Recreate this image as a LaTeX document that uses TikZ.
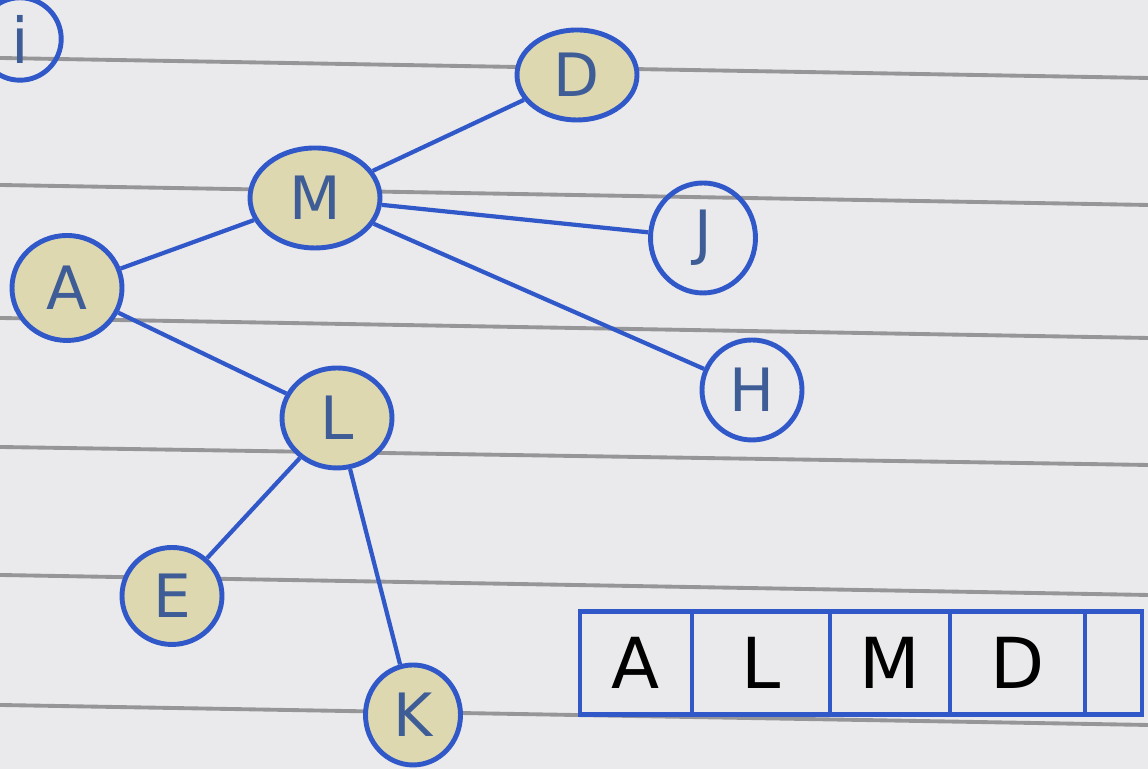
\documentclass[tikz,border=0pt]{standalone}
\usepackage{fontspec}
\setmainfont{DejaVu Sans}
\usetikzlibrary{shapes.geometric}
\definecolor{paper}{RGB}{234,234,236}
\definecolor{rule}{RGB}{150,150,152}
\definecolor{ink}{RGB}{48,88,200}
\definecolor{inktext}{RGB}{62,92,150}
\definecolor{shade}{RGB}{222,216,176}
\begin{document}
\begin{tikzpicture}[
  vertex/.style={ellipse,draw=ink,line width=1.4pt,inner sep=0pt,
    text=inktext,font=\fontsize{17}{20}\selectfont},
  seen/.style={vertex,fill=shade},
  open/.style={vertex},
  edge/.style={draw=ink,line width=1.2pt},
  cell/.style={rectangle,draw=ink,line width=1.4pt,minimum height=1.03cm,
    inner sep=0pt,font=\fontsize{20}{24}\selectfont},
  ruled/.style={draw=rule,line width=1.1pt}]
\clip (0,0) rectangle (11.48,7.69);
\fill[paper] (0,0) rectangle (11.48,7.69);
% paper lines
\foreach \a/\b in {7.11/6.91,5.84/5.64,4.51/4.31,3.22/3.04,1.94/1.74,0.64/0.44}
  \draw[ruled] (0,\a) -- (11.48,\b);
% label
\node[circle,draw=ink,line width=1.4pt,minimum size=0.78cm,text=inktext,
  font=\fontsize{18}{20}\selectfont] (num) at (0.2,7.3) {i};
% tree
\node[seen,minimum width=1.2cm,minimum height=0.9cm] (D) at (5.77,6.94) {D};
\node[seen,minimum width=1.3cm,minimum height=1.0cm] (M) at (3.15,5.71) {M};
\node[open,minimum width=1.05cm,minimum height=1.1cm] (J) at (7.03,5.31) {J};
\node[seen,minimum width=1.1cm,minimum height=1.05cm] (A) at (0.67,4.81) {A};
\node[open,minimum width=1.0cm,minimum height=1.0cm] (H) at (7.52,3.79) {H};
\node[seen,minimum width=1.1cm,minimum height=1.0cm] (L) at (3.37,3.51) {L};
\node[seen,minimum width=1.0cm,minimum height=0.97cm] (E) at (1.72,1.73) {E};
\node[seen,minimum width=0.95cm,minimum height=1.0cm] (K) at (4.13,0.54) {K};
\draw[edge] (A) -- (M);
\draw[edge] (A) -- (L);
\draw[edge] (M) -- (D);
\draw[edge] (M) -- (J);
\draw[edge] (M) -- (H);
\draw[edge] (L) -- (E);
\draw[edge] (L) -- (K);
% visited list
\foreach \n/\x/\w/\t in {c1/6.36/1.12/A,c2/7.61/1.38/L,c3/8.90/1.20/M,c4/10.175/1.35/D,c5/11.135/0.57/{}}
  \node[cell,minimum width=\w cm] (\n) at (\x,1.06) {\t};
\end{tikzpicture}
\end{document}
